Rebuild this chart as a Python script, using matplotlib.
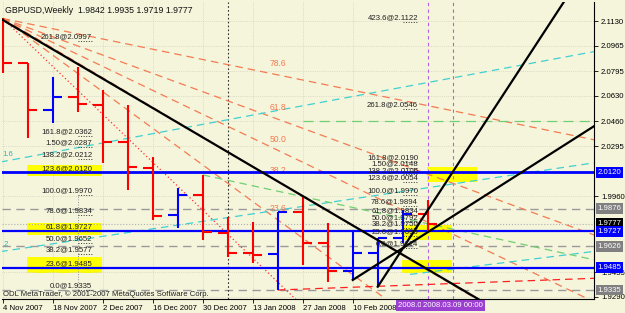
import matplotlib
matplotlib.use("Agg")
import matplotlib.pyplot as plt
from matplotlib.patches import Rectangle

plt.rcParams['font.family'] = ['Liberation Sans', 'DejaVu Sans']

# weekly GBPUSD bars, bar 0 = week of 4 Nov 2007
opens = [2.1050, 2.0852, 2.0536, 2.0625, 2.0570, 2.0325, 2.0147, 1.9836, 1.9969,
         1.9714, 1.9580, 1.9576, 1.9858, 1.9647, 1.9462, 1.9580, 1.9680, 1.9842]
highs = [2.1148, 2.0852, 2.0754, 2.0825, 2.0670, 2.0570, 2.0225, 2.0014, 2.0103,
         1.9825, 1.9791, 1.9858, 1.9958, 1.9780, 1.9736, 1.9680, 1.9869, 1.9935]
lows = [2.0781, 2.0347, 2.0448, 2.0525, 2.0181, 2.0003, 1.9802, 1.9747, 1.9669,
        1.9558, 1.9514, 1.9335, 1.9502, 1.9391, 1.9402, 1.9357, 1.9647, 1.9719]
closes = [2.0852, 2.0536, 2.0625, 2.0574, 2.0325, 2.0158, 1.9829, 1.9969, 1.9724,
          1.9584, 1.9569, 1.9858, 1.9651, 1.9462, 1.9580, 1.9680, 1.9842, 1.9777]

date_labels = ["4 Nov 2007", "18 Nov 2007", "2 Dec 2007", "16 Dec 2007",
               "30 Dec 2007", "13 Jan 2008", "27 Jan 2008", "10 Feb 2008"]
price_ticks = [2.1130, 2.0965, 2.0795, 2.0630, 2.0460, 2.0295, 1.9960, 1.9455, 1.9290]

# fibo retracement 1 (left) and 2 (right)
fibo1_levels = ["0.0", "23.6", "38.2", "50.0", "61.8", "78.6", "100.0",
                "123.6", "138.2", "1.50", "161.8", "261.8"]
fibo1_prices = [1.9335, 1.9485, 1.9577, 1.9652, 1.9727, 1.9834, 1.9970,
                2.0120, 2.0212, 2.0287, 2.0362, 2.0997]
fibo2_levels = ["0.0", "23.6", "38.2", "50.0", "61.8", "78.6", "100.0",
                "123.6", "138.2", "1.50", "161.8", "261.8", "423.6"]
fibo2_prices = [1.9614, 1.9698, 1.9750, 1.9792, 1.9834, 1.9894, 1.9970,
                2.0054, 2.0106, 2.0148, 2.0190, 2.0546, 2.1122]

# fibo fan from bar 0 high to bar 11
fan_start = (0, 2.1147)
fan_end = (11, 1.9388)
fan_levels = [0.236, 0.382, 0.5, 0.618, 0.786]
fan_labels = ["23.6", "38.2", "50.0", "61.8", "78.6"]

# horizontal lines
blue_levels = [2.0120, 1.9727, 1.9485]
grey_levels = [1.9876, 1.9626, 1.9335]
current_price = 1.9777
green_level = 2.0460

# trend lines as (bar, price) pairs, drawn as rays to the right
black_lines = [((0, 2.1137), (14, 1.9766)),
               ((15, 1.9357), (22.45, 2.1259)),
               ((14, 1.9402), (23.62, 2.0425))]
cyan_lines = [((-0.1, 2.0189), (23.62, 2.0925)),
              ((-0.1, 1.9591), (23.62, 2.0183)),
              ((16.29, 1.9439), (23.62, 1.9592))]
green_line = ((8, 2.0103), (23.56, 1.9540))
red_line = ((11, 1.9335), (23.62, 1.9413))

# yellow highlight boxes: x0, x1, low, high
yellow_boxes = [(0.97, 3.97, 2.0098, 2.0169), (0.97, 3.97, 1.9702, 1.9784),
                (0.97, 3.97, 1.9448, 1.9552), (16.97, 18.97, 2.0058, 2.0158),
                (15.97, 17.97, 1.9669, 1.9769), (15.97, 17.97, 1.9449, 1.9536)]

# price boxes on the right scale
box_prices = [2.0120, 1.9876, 1.9777, 1.9727, 1.9626, 1.9485, 1.9335]
box_colors = ["#0000ff", "#808080", "#000000", "#0000ff", "#808080", "#0000ff", "#808080"]

BG = "#f5f5dc"
FAN = "#f47a52"
XMIN, XMAX = -0.03, 23.65
YMIN, YMAX = 1.9275, 2.1257
FS = 5.6


def ray(ax, p0, p1, **kw):
    (x0, y0), (x1, y1) = p0, p1
    k = (y1 - y0) / (x1 - x0)
    ax.plot([x0, XMAX + 1], [y0, y0 + k * (XMAX + 1 - x0)], **kw)


fig = plt.figure(figsize=(6.25, 3.13), dpi=100, facecolor=BG)
ax = fig.add_axes([2 / 625, 14 / 313, 592 / 625, 297 / 313], facecolor=BG)
ax.set_xlim(XMIN, XMAX)
ax.set_ylim(YMIN, YMAX)

ax.grid(True, color="#c9c9b6", linestyle=":", linewidth=0.5)

for x0, x1, lo, hi in yellow_boxes:
    ax.add_patch(Rectangle((x0, lo), x1 - x0, hi - lo, color="#ffff00", lw=0, zorder=1))

for p in grey_levels:
    ax.axhline(p, color="#9a9a9a", lw=1, ls=(0, (6, 4)), zorder=2)
ax.axhline(current_price, color="#b0b0b0", lw=0.8, ls=":", zorder=2)

ax.axvline(9, color="#303030", lw=0.8, ls=(0, (1.5, 2)), zorder=2)
for xv in [17, 18]:
    ax.axvline(xv, color="#b060e0", lw=0.8, ls=(0, (3, 3)), zorder=2)

# fan
x0, p1 = fan_start
x2, p2 = fan_end
for lv, lab in zip(fan_levels, fan_labels):
    pt = p2 + lv * (p1 - p2)
    ray(ax, (x0, p1), (x2, pt), color=FAN, lw=0.9, ls=(0, (6, 4)), zorder=2)
    ax.text(x2, pt + 0.0045, lab, color=FAN, fontsize=FS + 0.6, ha="center", va="bottom")
ray(ax, (x0, p1), (x2, p2), color="#ff3030", lw=0.9, ls=(0, (1, 2)), zorder=2)

for a, b in cyan_lines:
    ray(ax, a, b, color="#40d0d0", lw=0.9, ls=(0, (6, 4)), zorder=2)
ray(ax, *green_line, color="#70d070", lw=0.9, ls=(0, (6, 4)), zorder=2)
ax.plot([12, XMAX + 1], [green_level, green_level], color="#70d070", lw=0.9,
        ls=(0, (8, 5)), zorder=2)
ray(ax, *red_line, color="#ff2020", lw=0.9, ls=(0, (6, 4)), zorder=2)

for p, lw in zip(blue_levels, [2, 1.6, 1.6]):
    ax.axhline(p, color="#0000ff", lw=lw, zorder=3)

# bars
for i, (o, h, l, c) in enumerate(zip(opens, highs, lows, closes)):
    col = "#0000ff" if c >= o else "#ff0000"
    ax.plot([i, i], [l, h], color=col, lw=1.5, zorder=4, solid_capstyle="butt")
    ax.plot([i - 0.38, i], [o, o], color=col, lw=1.5, zorder=4, solid_capstyle="butt")
    ax.plot([i, i + 0.38], [c, c], color=col, lw=1.5, zorder=4, solid_capstyle="butt")

for a, b in black_lines:
    ray(ax, a, b, color="#000000", lw=1.6, zorder=5)

# fibo retracements
ax.plot([3.0, 3.0], [fibo1_prices[0], fibo1_prices[6]], color="#909090", lw=0.7,
        ls=":", zorder=3)
for lab, p in zip(fibo1_levels, fibo1_prices):
    ax.text(3.58, p + 0.0004, f"{lab}@{p:.4f}", fontsize=FS, color="#202020",
            ha="right", va="bottom", zorder=6)
    ax.plot([3.0, 3.58], [p, p], color="#303030", lw=0.7, ls=":", zorder=3)
for lab, p in zip(fibo2_levels, fibo2_prices):
    ax.text(16.61, p + 0.0004, f"{lab}@{p:.4f}", fontsize=FS, color="#202020",
            ha="right", va="bottom", zorder=6)
    ax.plot([16.0, 16.61], [p, p], color="#303030", lw=0.7, ls=":", zorder=3)

# axes style
for s in ["top", "left"]:
    ax.spines[s].set_visible(False)
for s in ["right", "bottom"]:
    ax.spines[s].set_color("#000000")
    ax.spines[s].set_linewidth(0.8)
ax.yaxis.tick_right()
ax.set_yticks(price_ticks)
ax.set_yticklabels([f"{p:.4f}" for p in price_ticks])
ax.tick_params(axis="y", labelsize=FS, length=3, pad=2, width=0.6)
ax.set_xticks(range(0, 16, 2))
ax.set_xticklabels(date_labels, ha="left")
ax.tick_params(axis="x", labelsize=FS, length=3, pad=1.5, width=0.6)

for p, col in zip(box_prices, box_colors):
    ax.text(XMAX + 0.14, p, f"{p:.4f}", transform=ax.transData, fontsize=FS,
            color="white", ha="left", va="center", clip_on=False, zorder=10,
            bbox=dict(boxstyle="square,pad=0.25", fc=col, ec="none"))

for xv, lab in [(17, "2008.03.02 00:00"), (18, "2008.03.09 00:00")]:
    ax.text(xv, YMIN - 0.0045, lab, fontsize=FS, color="white", ha="center", va="center",
            clip_on=False, zorder=10,
            bbox=dict(boxstyle="square,pad=0.25", fc="#9b3fd0", ec="none"))

ax.text(0.005, 0.985, "GBPUSD,Weekly  1.9842 1.9935 1.9719 1.9777", transform=ax.transAxes,
        fontsize=6.3, color="#101010", ha="left", va="top", zorder=10)
ax.text(0.002, 0.004, "ODL MetaTrader, \u00a9 2001-2007 MetaQuotes Software Corp.",
        transform=ax.transAxes, fontsize=FS, color="#202020", ha="left", va="bottom", zorder=10)
ax.text(0.0, 2.0240, "1.6", fontsize=FS, color="#30b0c0", ha="left", va="center")
ax.text(0.0, 1.9640, ".2", fontsize=FS, color="#30b0c0", ha="left", va="center")

fig.savefig("out.png", dpi=100, facecolor=BG)
